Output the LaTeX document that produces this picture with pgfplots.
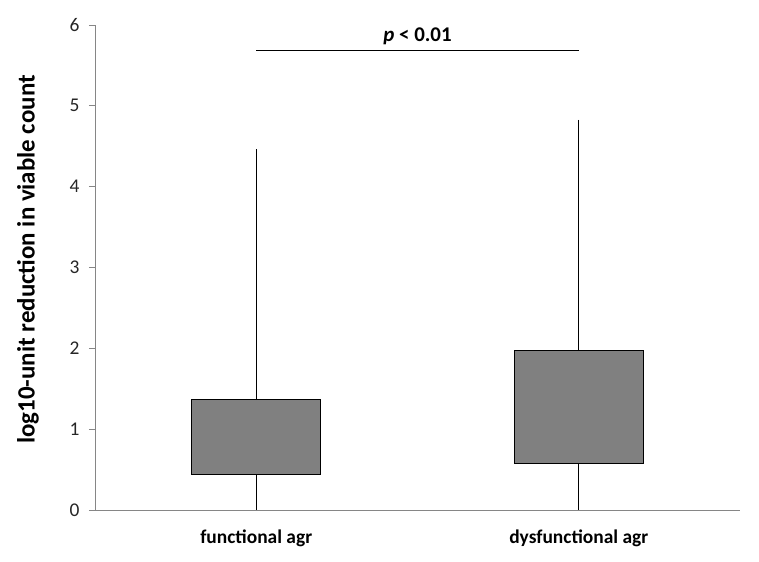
\documentclass[border=0pt]{standalone}
\usepackage{fontspec}
\setmainfont{Carlito}
\usepackage{pgfplots}
\pgfplotsset{compat=1.18}
\usepgfplotslibrary{statistics}
\definecolor{boxgray}{HTML}{808080}
\definecolor{axisgray}{HTML}{868686}

\begin{document}
\begin{tikzpicture}
\begin{axis}[
    name=ax,
    scale only axis,
    width=645bp, height=485bp,
    xmin=0, xmax=2,
    ymin=0, ymax=6,
    axis lines*=left,
    axis line style={axisgray, line width=0.8bp},
    clip=false,
    boxplot/draw direction=y,
    /pgf/number format/assume math mode=true,
    xtick={0.5,1.5},
    xticklabels={\textbf{functional agr},\textbf{dysfunctional agr}},
    x tick style={draw=none},
    xticklabel style={font=\fontsize{19.5}{22}\selectfont, anchor=center, yshift=-22bp},
    extra x ticks={0,1,2},
    extra x tick labels={},
    extra x tick style={tick style={draw=axisgray, line width=0.8bp}, major tick length=6bp, tick align=outside},
    ytick={0,1,2,3,4,5,6},
    y tick style={draw=axisgray, line width=0.8bp},
    major tick length=6bp,
    tick align=outside,
    yticklabel style={font=\fontsize{19.5}{22}\selectfont, text=black!85, anchor=east, xshift=-6bp},
    ylabel={\textbf{log10-unit reduction in viable count}},
    every axis y label/.style={at={(rel axis cs:0,0.5)}, xshift=-67bp, yshift=8bp, rotate=90, anchor=center,
        font=\fontsize{25}{29}\selectfont},
]
% functional agr
\addplot[boxplot prepared={lower whisker=0, lower quartile=0.445, median=0.445,
    upper quartile=1.365, upper whisker=4.46, draw position=0.5,
    box extend=0.4, whisker extend=0},
    fill=boxgray, draw=black, line width=0.9bp] coordinates {};
% dysfunctional agr
\addplot[boxplot prepared={lower whisker=0, lower quartile=0.57, median=0.57,
    upper quartile=1.97, upper whisker=4.83, draw position=1.5,
    box extend=0.4, whisker extend=0},
    fill=boxgray, draw=black, line width=0.9bp] coordinates {};
% significance bar
\addplot[black, line width=0.9bp] coordinates {(0.5,5.68) (1.5,5.68)};
\node[font=\fontsize{21}{24}\selectfont\bfseries, anchor=south] at (axis cs:1,5.71)
    {\textit{p} < 0.01};
\end{axis}
\path ([shift={(-95bp,-52bp)}]ax.south west) rectangle ([shift={(19bp,25bp)}]ax.north east);
\end{tikzpicture}
\end{document}
